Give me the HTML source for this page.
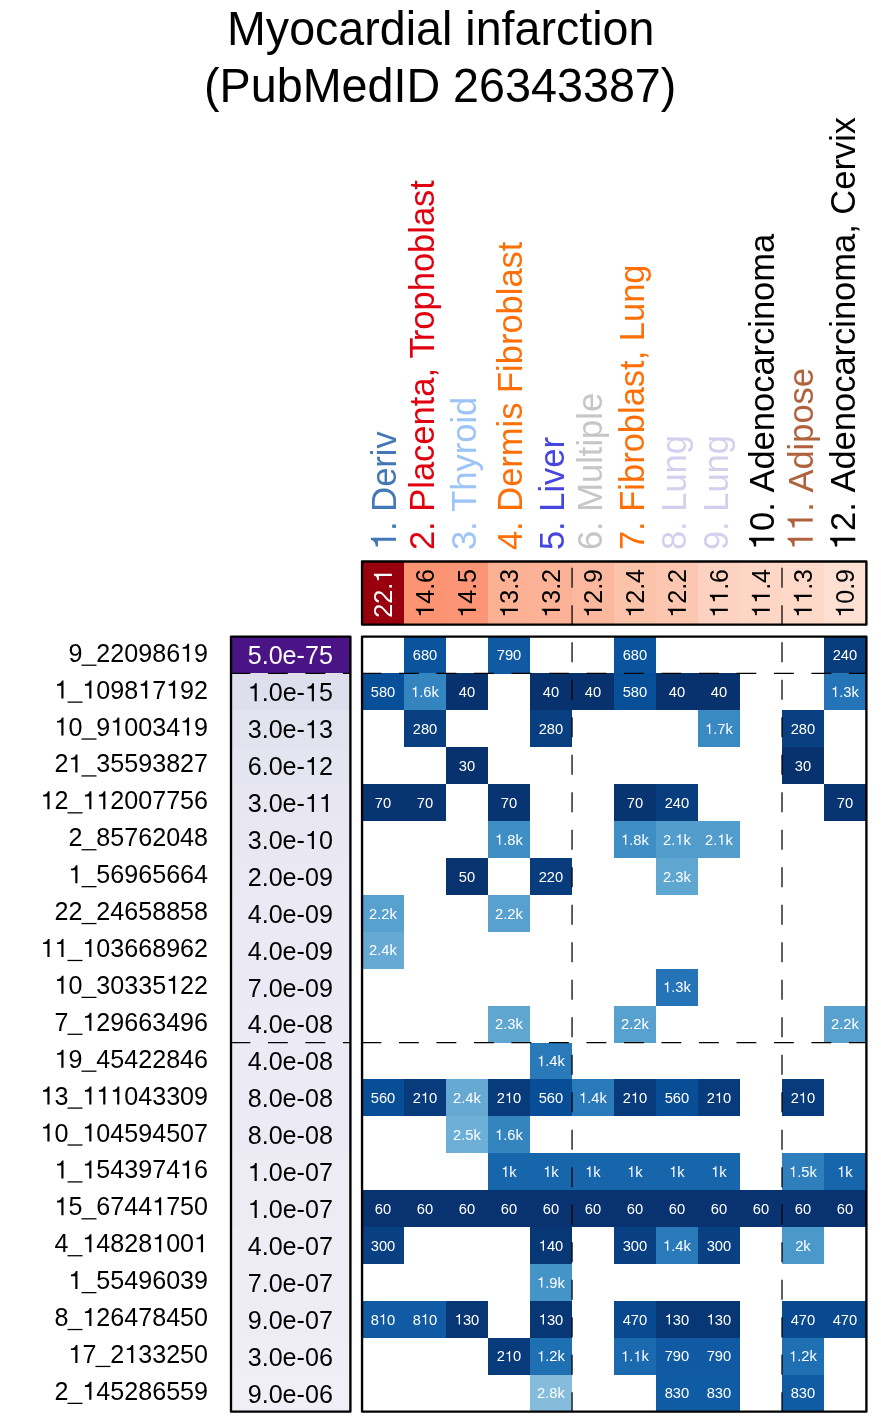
<!DOCTYPE html>
<html><head><meta charset="utf-8"><title>Myocardial infarction</title>
<style>
html,body{margin:0;padding:0;background:#fff;}
svg{display:block;will-change:transform;}
text{font-kerning:none;font-family:"Liberation Sans",sans-serif;}
</style></head><body>
<svg width="881" height="1418" viewBox="0 0 881 1418">
<rect x="0" y="0" width="881" height="1418" fill="#ffffff"/>
<g font-size="46.7" text-anchor="middle" fill="#000">
<text font-size="46.6" transform="translate(440.70 45.20) scale(1 1.045)">Myocardial infarction</text>
<text transform="translate(440.20 101.60) scale(1 1.045)">(PubMedID 26343387)</text>
</g>
<g font-size="34.5">
<g transform="translate(396.00 550.10) rotate(-90) scale(1 1.035)" fill="#4178b5"><path transform="translate(0.00 0) scale(0.03450 -0.03450)" d="M359 0H272V505H101V568C216 573 270 610 295 703H359Z"/><text x="19.18">. Deriv</text></g>
<text transform="translate(434.19 550.10) rotate(-90) scale(1 1.035)" fill="#e0000f">2. Placenta, T<tspan dx="-3.8">rophoblast</tspan></text>
<text transform="translate(475.98 550.10) rotate(-90) scale(1 1.035)" fill="#9dc4f6">3. Thyroid</text>
<text transform="translate(521.57 550.10) rotate(-90) scale(1 1.035)" fill="#ff6f08">4. Dermis Fibroblast</text>
<text transform="translate(563.75 550.10) rotate(-90) scale(1 1.035)" fill="#4545e0">5. Liver</text>
<text transform="translate(602.15 550.10) rotate(-90) scale(1 1.035)" fill="#c6c6c6">6. Multiple</text>
<text transform="translate(644.03 550.10) rotate(-90) scale(1 1.035)" fill="#ff6f08">7. Fibroblast, Lung</text>
<text transform="translate(686.02 550.10) rotate(-90) scale(1 1.035)" fill="#d3cfee">8. Lung</text>
<text transform="translate(728.01 550.10) rotate(-90) scale(1 1.035)" fill="#d3cfee">9. Lung</text>
<g transform="translate(774.20 550.10) rotate(-90) scale(1 1.035)" fill="#000000"><path transform="translate(0.00 0) scale(0.03450 -0.03450)" d="M359 0H272V505H101V568C216 573 270 610 295 703H359Z"/><text x="19.18">0. Adenocarcinoma</text></g>
<g transform="translate(812.69 550.10) rotate(-90) scale(1 1.035)" fill="#b0623c"><path transform="translate(0.00 0) scale(0.03450 -0.03450)" d="M359 0H272V505H101V568C216 573 270 610 295 703H359Z"/><path transform="translate(19.18 0) scale(0.03450 -0.03450)" d="M359 0H272V505H101V568C216 573 270 610 295 703H359Z"/><text x="38.36">. Adipose</text></g>
<g transform="translate(855.28 550.10) rotate(-90) scale(1 1.035)" fill="#000000"><path transform="translate(0.00 0) scale(0.03450 -0.03450)" d="M359 0H272V505H101V568C216 573 270 610 295 703H359Z"/><text x="19.18">2. Adenocarcinoma, Cervix</text></g>
</g>
<g shape-rendering="crispEdges">
<rect x="362.00" y="561.5" width="42.04" height="63.10" fill="#99000d"/>
<rect x="403.99" y="561.5" width="42.04" height="63.10" fill="#fc9373"/>
<rect x="445.98" y="561.5" width="42.04" height="63.10" fill="#fc9576"/>
<rect x="487.97" y="561.5" width="42.04" height="63.10" fill="#fcb094"/>
<rect x="529.96" y="561.5" width="42.04" height="63.10" fill="#fcb296"/>
<rect x="571.95" y="561.5" width="42.04" height="63.10" fill="#fcb89e"/>
<rect x="613.94" y="561.5" width="42.04" height="63.10" fill="#fcc3ab"/>
<rect x="655.93" y="561.5" width="42.04" height="63.10" fill="#fdc6b0"/>
<rect x="697.92" y="561.5" width="42.04" height="63.10" fill="#fdd2c0"/>
<rect x="739.91" y="561.5" width="42.04" height="63.10" fill="#fdd6c5"/>
<rect x="781.90" y="561.5" width="42.04" height="63.10" fill="#fed8c8"/>
<rect x="823.89" y="561.5" width="42.04" height="63.10" fill="#fee0d2"/>
</g>
<g font-size="25.1">
<g transform="translate(391.89 593.35) rotate(-90) scale(1 1.02)" fill="#fff"><text x="-24.42">22.</text><path transform="translate(10.47 0) scale(0.02510 -0.02510)" d="M359 0H272V505H101V568C216 573 270 610 295 703H359Z"/></g>
<g transform="translate(433.88 593.35) rotate(-90) scale(1 1.02)" fill="#000"><path transform="translate(-24.42 0) scale(0.02510 -0.02510)" d="M359 0H272V505H101V568C216 573 270 610 295 703H359Z"/><text x="-10.47">4.6</text></g>
<g transform="translate(475.88 593.35) rotate(-90) scale(1 1.02)" fill="#000"><path transform="translate(-24.42 0) scale(0.02510 -0.02510)" d="M359 0H272V505H101V568C216 573 270 610 295 703H359Z"/><text x="-10.47">4.5</text></g>
<g transform="translate(517.87 593.35) rotate(-90) scale(1 1.02)" fill="#000"><path transform="translate(-24.42 0) scale(0.02510 -0.02510)" d="M359 0H272V505H101V568C216 573 270 610 295 703H359Z"/><text x="-10.47">3.3</text></g>
<g transform="translate(559.86 593.35) rotate(-90) scale(1 1.02)" fill="#000"><path transform="translate(-24.42 0) scale(0.02510 -0.02510)" d="M359 0H272V505H101V568C216 573 270 610 295 703H359Z"/><text x="-10.47">3.2</text></g>
<g transform="translate(601.85 593.35) rotate(-90) scale(1 1.02)" fill="#000"><path transform="translate(-24.42 0) scale(0.02510 -0.02510)" d="M359 0H272V505H101V568C216 573 270 610 295 703H359Z"/><text x="-10.47">2.9</text></g>
<g transform="translate(643.83 593.35) rotate(-90) scale(1 1.02)" fill="#000"><path transform="translate(-24.42 0) scale(0.02510 -0.02510)" d="M359 0H272V505H101V568C216 573 270 610 295 703H359Z"/><text x="-10.47">2.4</text></g>
<g transform="translate(685.82 593.35) rotate(-90) scale(1 1.02)" fill="#000"><path transform="translate(-24.42 0) scale(0.02510 -0.02510)" d="M359 0H272V505H101V568C216 573 270 610 295 703H359Z"/><text x="-10.47">2.2</text></g>
<g transform="translate(727.81 593.35) rotate(-90) scale(1 1.02)" fill="#000"><path transform="translate(-24.42 0) scale(0.02510 -0.02510)" d="M359 0H272V505H101V568C216 573 270 610 295 703H359Z"/><path transform="translate(-10.47 0) scale(0.02510 -0.02510)" d="M359 0H272V505H101V568C216 573 270 610 295 703H359Z"/><text x="3.49">.6</text></g>
<g transform="translate(769.80 593.35) rotate(-90) scale(1 1.02)" fill="#000"><path transform="translate(-24.42 0) scale(0.02510 -0.02510)" d="M359 0H272V505H101V568C216 573 270 610 295 703H359Z"/><path transform="translate(-10.47 0) scale(0.02510 -0.02510)" d="M359 0H272V505H101V568C216 573 270 610 295 703H359Z"/><text x="3.49">.4</text></g>
<g transform="translate(811.79 593.35) rotate(-90) scale(1 1.02)" fill="#000"><path transform="translate(-24.42 0) scale(0.02510 -0.02510)" d="M359 0H272V505H101V568C216 573 270 610 295 703H359Z"/><path transform="translate(-10.47 0) scale(0.02510 -0.02510)" d="M359 0H272V505H101V568C216 573 270 610 295 703H359Z"/><text x="3.49">.3</text></g>
<g transform="translate(853.78 593.35) rotate(-90) scale(1 1.02)" fill="#000"><path transform="translate(-24.42 0) scale(0.02510 -0.02510)" d="M359 0H272V505H101V568C216 573 270 610 295 703H359Z"/><text x="-10.47">0.9</text></g>
</g>
<g shape-rendering="crispEdges">
<rect x="231.0" y="636.55" width="119.40" height="36.96" fill="#4a1486"/>
<rect x="231.0" y="673.46" width="119.40" height="36.96" fill="#dfdeed"/>
<rect x="231.0" y="710.36" width="119.40" height="36.96" fill="#e3e2ef"/>
<rect x="231.0" y="747.27" width="119.40" height="36.96" fill="#e5e4f1"/>
<rect x="231.0" y="784.18" width="119.40" height="36.96" fill="#e7e6f1"/>
<rect x="231.0" y="821.09" width="119.40" height="36.96" fill="#e8e7f2"/>
<rect x="231.0" y="857.99" width="119.40" height="36.96" fill="#eae9f3"/>
<rect x="231.0" y="894.90" width="119.40" height="36.96" fill="#eae9f4"/>
<rect x="231.0" y="931.81" width="119.40" height="36.96" fill="#eae9f4"/>
<rect x="231.0" y="968.71" width="119.40" height="36.96" fill="#ebeaf4"/>
<rect x="231.0" y="1005.62" width="119.40" height="36.96" fill="#ecebf5"/>
<rect x="231.0" y="1042.53" width="119.40" height="36.96" fill="#ecebf5"/>
<rect x="231.0" y="1079.44" width="119.40" height="36.96" fill="#ecebf5"/>
<rect x="231.0" y="1116.34" width="119.40" height="36.96" fill="#ecebf5"/>
<rect x="231.0" y="1153.25" width="119.40" height="36.96" fill="#edecf5"/>
<rect x="231.0" y="1190.16" width="119.40" height="36.96" fill="#edecf5"/>
<rect x="231.0" y="1227.06" width="119.40" height="36.96" fill="#eeedf6"/>
<rect x="231.0" y="1263.97" width="119.40" height="36.96" fill="#eeedf6"/>
<rect x="231.0" y="1300.88" width="119.40" height="36.96" fill="#eeedf6"/>
<rect x="231.0" y="1337.79" width="119.40" height="36.96" fill="#efeef6"/>
<rect x="231.0" y="1374.69" width="119.40" height="36.96" fill="#f0eff7"/>
</g>
<g shape-rendering="crispEdges">
<rect x="403.99" y="636.55" width="42.04" height="36.96" fill="#0a549e"/>
<rect x="487.97" y="636.55" width="42.04" height="36.96" fill="#0f5aa3"/>
<rect x="613.94" y="636.55" width="42.04" height="36.96" fill="#0a549e"/>
<rect x="823.89" y="636.55" width="42.04" height="36.96" fill="#083d7e"/>
<rect x="362.00" y="673.46" width="42.04" height="36.96" fill="#084f99"/>
<rect x="403.99" y="673.46" width="42.04" height="36.96" fill="#3484bf"/>
<rect x="445.98" y="673.46" width="42.04" height="36.96" fill="#08326e"/>
<rect x="529.96" y="673.46" width="42.04" height="36.96" fill="#08326e"/>
<rect x="571.95" y="673.46" width="42.04" height="36.96" fill="#08326e"/>
<rect x="613.94" y="673.46" width="42.04" height="36.96" fill="#084f99"/>
<rect x="655.93" y="673.46" width="42.04" height="36.96" fill="#08326e"/>
<rect x="697.92" y="673.46" width="42.04" height="36.96" fill="#08326e"/>
<rect x="823.89" y="673.46" width="42.04" height="36.96" fill="#2474b7"/>
<rect x="403.99" y="710.36" width="42.04" height="36.96" fill="#083f81"/>
<rect x="529.96" y="710.36" width="42.04" height="36.96" fill="#083f81"/>
<rect x="697.92" y="710.36" width="42.04" height="36.96" fill="#3989c2"/>
<rect x="781.90" y="710.36" width="42.04" height="36.96" fill="#083f81"/>
<rect x="445.98" y="747.27" width="42.04" height="36.96" fill="#08326d"/>
<rect x="781.90" y="747.27" width="42.04" height="36.96" fill="#08326d"/>
<rect x="362.00" y="784.18" width="42.04" height="36.96" fill="#083471"/>
<rect x="403.99" y="784.18" width="42.04" height="36.96" fill="#083471"/>
<rect x="487.97" y="784.18" width="42.04" height="36.96" fill="#083471"/>
<rect x="613.94" y="784.18" width="42.04" height="36.96" fill="#083471"/>
<rect x="655.93" y="784.18" width="42.04" height="36.96" fill="#083d7e"/>
<rect x="823.89" y="784.18" width="42.04" height="36.96" fill="#083471"/>
<rect x="487.97" y="821.09" width="42.04" height="36.96" fill="#3f8fc4"/>
<rect x="613.94" y="821.09" width="42.04" height="36.96" fill="#3f8fc4"/>
<rect x="655.93" y="821.09" width="42.04" height="36.96" fill="#529dcc"/>
<rect x="697.92" y="821.09" width="42.04" height="36.96" fill="#529dcc"/>
<rect x="445.98" y="857.99" width="42.04" height="36.96" fill="#08336f"/>
<rect x="529.96" y="857.99" width="42.04" height="36.96" fill="#083c7c"/>
<rect x="655.93" y="857.99" width="42.04" height="36.96" fill="#5fa6d1"/>
<rect x="362.00" y="894.90" width="42.04" height="36.96" fill="#58a1cf"/>
<rect x="487.97" y="894.90" width="42.04" height="36.96" fill="#58a1cf"/>
<rect x="362.00" y="931.81" width="42.04" height="36.96" fill="#66aad4"/>
<rect x="655.93" y="968.71" width="42.04" height="36.96" fill="#2474b7"/>
<rect x="487.97" y="1005.62" width="42.04" height="36.96" fill="#5fa6d1"/>
<rect x="613.94" y="1005.62" width="42.04" height="36.96" fill="#58a1cf"/>
<rect x="823.89" y="1005.62" width="42.04" height="36.96" fill="#58a1cf"/>
<rect x="529.96" y="1042.53" width="42.04" height="36.96" fill="#2a7ab9"/>
<rect x="362.00" y="1079.44" width="42.04" height="36.96" fill="#084e97"/>
<rect x="403.99" y="1079.44" width="42.04" height="36.96" fill="#083b7c"/>
<rect x="445.98" y="1079.44" width="42.04" height="36.96" fill="#66aad4"/>
<rect x="487.97" y="1079.44" width="42.04" height="36.96" fill="#083b7c"/>
<rect x="529.96" y="1079.44" width="42.04" height="36.96" fill="#084e97"/>
<rect x="571.95" y="1079.44" width="42.04" height="36.96" fill="#2a7ab9"/>
<rect x="613.94" y="1079.44" width="42.04" height="36.96" fill="#083b7c"/>
<rect x="655.93" y="1079.44" width="42.04" height="36.96" fill="#084e97"/>
<rect x="697.92" y="1079.44" width="42.04" height="36.96" fill="#083b7c"/>
<rect x="781.90" y="1079.44" width="42.04" height="36.96" fill="#083b7c"/>
<rect x="445.98" y="1116.34" width="42.04" height="36.96" fill="#6dafd6"/>
<rect x="487.97" y="1116.34" width="42.04" height="36.96" fill="#3484bf"/>
<rect x="487.97" y="1153.25" width="42.04" height="36.96" fill="#1765ab"/>
<rect x="529.96" y="1153.25" width="42.04" height="36.96" fill="#1765ab"/>
<rect x="571.95" y="1153.25" width="42.04" height="36.96" fill="#1765ab"/>
<rect x="613.94" y="1153.25" width="42.04" height="36.96" fill="#1765ab"/>
<rect x="655.93" y="1153.25" width="42.04" height="36.96" fill="#1765ab"/>
<rect x="697.92" y="1153.25" width="42.04" height="36.96" fill="#1765ab"/>
<rect x="781.90" y="1153.25" width="42.04" height="36.96" fill="#2f7fbc"/>
<rect x="823.89" y="1153.25" width="42.04" height="36.96" fill="#1765ab"/>
<rect x="362.00" y="1190.16" width="42.04" height="36.96" fill="#083370"/>
<rect x="403.99" y="1190.16" width="42.04" height="36.96" fill="#083370"/>
<rect x="445.98" y="1190.16" width="42.04" height="36.96" fill="#083370"/>
<rect x="487.97" y="1190.16" width="42.04" height="36.96" fill="#083370"/>
<rect x="529.96" y="1190.16" width="42.04" height="36.96" fill="#083370"/>
<rect x="571.95" y="1190.16" width="42.04" height="36.96" fill="#083370"/>
<rect x="613.94" y="1190.16" width="42.04" height="36.96" fill="#083370"/>
<rect x="655.93" y="1190.16" width="42.04" height="36.96" fill="#083370"/>
<rect x="697.92" y="1190.16" width="42.04" height="36.96" fill="#083370"/>
<rect x="739.91" y="1190.16" width="42.04" height="36.96" fill="#083370"/>
<rect x="781.90" y="1190.16" width="42.04" height="36.96" fill="#083370"/>
<rect x="823.89" y="1190.16" width="42.04" height="36.96" fill="#083370"/>
<rect x="362.00" y="1227.06" width="42.04" height="36.96" fill="#084083"/>
<rect x="529.96" y="1227.06" width="42.04" height="36.96" fill="#083776"/>
<rect x="613.94" y="1227.06" width="42.04" height="36.96" fill="#084083"/>
<rect x="655.93" y="1227.06" width="42.04" height="36.96" fill="#2a7ab9"/>
<rect x="697.92" y="1227.06" width="42.04" height="36.96" fill="#084083"/>
<rect x="781.90" y="1227.06" width="42.04" height="36.96" fill="#4b98ca"/>
<rect x="529.96" y="1263.97" width="42.04" height="36.96" fill="#4594c7"/>
<rect x="362.00" y="1300.88" width="42.04" height="36.96" fill="#105ba4"/>
<rect x="403.99" y="1300.88" width="42.04" height="36.96" fill="#105ba4"/>
<rect x="445.98" y="1300.88" width="42.04" height="36.96" fill="#083775"/>
<rect x="529.96" y="1300.88" width="42.04" height="36.96" fill="#083775"/>
<rect x="613.94" y="1300.88" width="42.04" height="36.96" fill="#084990"/>
<rect x="655.93" y="1300.88" width="42.04" height="36.96" fill="#083775"/>
<rect x="697.92" y="1300.88" width="42.04" height="36.96" fill="#083775"/>
<rect x="781.90" y="1300.88" width="42.04" height="36.96" fill="#084990"/>
<rect x="823.89" y="1300.88" width="42.04" height="36.96" fill="#084990"/>
<rect x="487.97" y="1337.79" width="42.04" height="36.96" fill="#083b7c"/>
<rect x="529.96" y="1337.79" width="42.04" height="36.96" fill="#1f6fb3"/>
<rect x="613.94" y="1337.79" width="42.04" height="36.96" fill="#1b6aaf"/>
<rect x="655.93" y="1337.79" width="42.04" height="36.96" fill="#0f5aa3"/>
<rect x="697.92" y="1337.79" width="42.04" height="36.96" fill="#0f5aa3"/>
<rect x="781.90" y="1337.79" width="42.04" height="36.96" fill="#1f6fb3"/>
<rect x="529.96" y="1374.69" width="42.04" height="36.96" fill="#85bcdc"/>
<rect x="655.93" y="1374.69" width="42.04" height="36.96" fill="#105ca4"/>
<rect x="697.92" y="1374.69" width="42.04" height="36.96" fill="#105ca4"/>
<rect x="781.90" y="1374.69" width="42.04" height="36.96" fill="#105ca4"/>
</g>
<g font-size="14.7" fill="#fff">
<text transform="translate(424.99 660.20) scale(1 1.02)" text-anchor="middle">680</text>
<text transform="translate(508.97 660.20) scale(1 1.02)" text-anchor="middle">790</text>
<text transform="translate(634.93 660.20) scale(1 1.02)" text-anchor="middle">680</text>
<text transform="translate(844.88 660.20) scale(1 1.02)" text-anchor="middle">240</text>
<text transform="translate(383.00 697.11) scale(1 1.02)" text-anchor="middle">580</text>
<g transform="translate(424.99 697.11) scale(1 1.02)"><path transform="translate(-13.89 0) scale(0.01470 -0.01470)" d="M359 0H272V505H101V568C216 573 270 610 295 703H359Z"/><text x="-5.72">.6k</text></g>
<text transform="translate(466.98 697.11) scale(1 1.02)" text-anchor="middle">40</text>
<text transform="translate(550.96 697.11) scale(1 1.02)" text-anchor="middle">40</text>
<text transform="translate(592.95 697.11) scale(1 1.02)" text-anchor="middle">40</text>
<text transform="translate(634.93 697.11) scale(1 1.02)" text-anchor="middle">580</text>
<text transform="translate(676.92 697.11) scale(1 1.02)" text-anchor="middle">40</text>
<text transform="translate(718.91 697.11) scale(1 1.02)" text-anchor="middle">40</text>
<g transform="translate(844.88 697.11) scale(1 1.02)"><path transform="translate(-13.89 0) scale(0.01470 -0.01470)" d="M359 0H272V505H101V568C216 573 270 610 295 703H359Z"/><text x="-5.72">.3k</text></g>
<text transform="translate(424.99 734.02) scale(1 1.02)" text-anchor="middle">280</text>
<text transform="translate(550.96 734.02) scale(1 1.02)" text-anchor="middle">280</text>
<g transform="translate(718.91 734.02) scale(1 1.02)"><path transform="translate(-13.89 0) scale(0.01470 -0.01470)" d="M359 0H272V505H101V568C216 573 270 610 295 703H359Z"/><text x="-5.72">.7k</text></g>
<text transform="translate(802.89 734.02) scale(1 1.02)" text-anchor="middle">280</text>
<text transform="translate(466.98 770.92) scale(1 1.02)" text-anchor="middle">30</text>
<text transform="translate(802.89 770.92) scale(1 1.02)" text-anchor="middle">30</text>
<text transform="translate(383.00 807.83) scale(1 1.02)" text-anchor="middle">70</text>
<text transform="translate(424.99 807.83) scale(1 1.02)" text-anchor="middle">70</text>
<text transform="translate(508.97 807.83) scale(1 1.02)" text-anchor="middle">70</text>
<text transform="translate(634.93 807.83) scale(1 1.02)" text-anchor="middle">70</text>
<text transform="translate(676.92 807.83) scale(1 1.02)" text-anchor="middle">240</text>
<text transform="translate(844.88 807.83) scale(1 1.02)" text-anchor="middle">70</text>
<g transform="translate(508.97 844.74) scale(1 1.02)"><path transform="translate(-13.89 0) scale(0.01470 -0.01470)" d="M359 0H272V505H101V568C216 573 270 610 295 703H359Z"/><text x="-5.72">.8k</text></g>
<g transform="translate(634.93 844.74) scale(1 1.02)"><path transform="translate(-13.89 0) scale(0.01470 -0.01470)" d="M359 0H272V505H101V568C216 573 270 610 295 703H359Z"/><text x="-5.72">.8k</text></g>
<g transform="translate(676.92 844.74) scale(1 1.02)"><text x="-13.89">2.</text><path transform="translate(-1.63 0) scale(0.01470 -0.01470)" d="M359 0H272V505H101V568C216 573 270 610 295 703H359Z"/><text x="6.54">k</text></g>
<g transform="translate(718.91 844.74) scale(1 1.02)"><text x="-13.89">2.</text><path transform="translate(-1.63 0) scale(0.01470 -0.01470)" d="M359 0H272V505H101V568C216 573 270 610 295 703H359Z"/><text x="6.54">k</text></g>
<text transform="translate(466.98 881.65) scale(1 1.02)" text-anchor="middle">50</text>
<text transform="translate(550.96 881.65) scale(1 1.02)" text-anchor="middle">220</text>
<text transform="translate(676.92 881.65) scale(1 1.02)" text-anchor="middle">2.3k</text>
<text transform="translate(383.00 918.55) scale(1 1.02)" text-anchor="middle">2.2k</text>
<text transform="translate(508.97 918.55) scale(1 1.02)" text-anchor="middle">2.2k</text>
<text transform="translate(383.00 955.46) scale(1 1.02)" text-anchor="middle">2.4k</text>
<g transform="translate(676.92 992.37) scale(1 1.02)"><path transform="translate(-13.89 0) scale(0.01470 -0.01470)" d="M359 0H272V505H101V568C216 573 270 610 295 703H359Z"/><text x="-5.72">.3k</text></g>
<text transform="translate(508.97 1029.28) scale(1 1.02)" text-anchor="middle">2.3k</text>
<text transform="translate(634.93 1029.28) scale(1 1.02)" text-anchor="middle">2.2k</text>
<text transform="translate(844.88 1029.28) scale(1 1.02)" text-anchor="middle">2.2k</text>
<g transform="translate(550.96 1066.18) scale(1 1.02)"><path transform="translate(-13.89 0) scale(0.01470 -0.01470)" d="M359 0H272V505H101V568C216 573 270 610 295 703H359Z"/><text x="-5.72">.4k</text></g>
<text transform="translate(383.00 1103.09) scale(1 1.02)" text-anchor="middle">560</text>
<g transform="translate(424.99 1103.09) scale(1 1.02)"><text x="-12.26">2</text><path transform="translate(-4.09 0) scale(0.01470 -0.01470)" d="M359 0H272V505H101V568C216 573 270 610 295 703H359Z"/><text x="4.09">0</text></g>
<text transform="translate(466.98 1103.09) scale(1 1.02)" text-anchor="middle">2.4k</text>
<g transform="translate(508.97 1103.09) scale(1 1.02)"><text x="-12.26">2</text><path transform="translate(-4.09 0) scale(0.01470 -0.01470)" d="M359 0H272V505H101V568C216 573 270 610 295 703H359Z"/><text x="4.09">0</text></g>
<text transform="translate(550.96 1103.09) scale(1 1.02)" text-anchor="middle">560</text>
<g transform="translate(592.95 1103.09) scale(1 1.02)"><path transform="translate(-13.89 0) scale(0.01470 -0.01470)" d="M359 0H272V505H101V568C216 573 270 610 295 703H359Z"/><text x="-5.72">.4k</text></g>
<g transform="translate(634.93 1103.09) scale(1 1.02)"><text x="-12.26">2</text><path transform="translate(-4.09 0) scale(0.01470 -0.01470)" d="M359 0H272V505H101V568C216 573 270 610 295 703H359Z"/><text x="4.09">0</text></g>
<text transform="translate(676.92 1103.09) scale(1 1.02)" text-anchor="middle">560</text>
<g transform="translate(718.91 1103.09) scale(1 1.02)"><text x="-12.26">2</text><path transform="translate(-4.09 0) scale(0.01470 -0.01470)" d="M359 0H272V505H101V568C216 573 270 610 295 703H359Z"/><text x="4.09">0</text></g>
<g transform="translate(802.89 1103.09) scale(1 1.02)"><text x="-12.26">2</text><path transform="translate(-4.09 0) scale(0.01470 -0.01470)" d="M359 0H272V505H101V568C216 573 270 610 295 703H359Z"/><text x="4.09">0</text></g>
<text transform="translate(466.98 1140.00) scale(1 1.02)" text-anchor="middle">2.5k</text>
<g transform="translate(508.97 1140.00) scale(1 1.02)"><path transform="translate(-13.89 0) scale(0.01470 -0.01470)" d="M359 0H272V505H101V568C216 573 270 610 295 703H359Z"/><text x="-5.72">.6k</text></g>
<g transform="translate(508.97 1176.90) scale(1 1.02)"><path transform="translate(-7.76 0) scale(0.01470 -0.01470)" d="M359 0H272V505H101V568C216 573 270 610 295 703H359Z"/><text x="0.41">k</text></g>
<g transform="translate(550.96 1176.90) scale(1 1.02)"><path transform="translate(-7.76 0) scale(0.01470 -0.01470)" d="M359 0H272V505H101V568C216 573 270 610 295 703H359Z"/><text x="0.41">k</text></g>
<g transform="translate(592.95 1176.90) scale(1 1.02)"><path transform="translate(-7.76 0) scale(0.01470 -0.01470)" d="M359 0H272V505H101V568C216 573 270 610 295 703H359Z"/><text x="0.41">k</text></g>
<g transform="translate(634.93 1176.90) scale(1 1.02)"><path transform="translate(-7.76 0) scale(0.01470 -0.01470)" d="M359 0H272V505H101V568C216 573 270 610 295 703H359Z"/><text x="0.41">k</text></g>
<g transform="translate(676.92 1176.90) scale(1 1.02)"><path transform="translate(-7.76 0) scale(0.01470 -0.01470)" d="M359 0H272V505H101V568C216 573 270 610 295 703H359Z"/><text x="0.41">k</text></g>
<g transform="translate(718.91 1176.90) scale(1 1.02)"><path transform="translate(-7.76 0) scale(0.01470 -0.01470)" d="M359 0H272V505H101V568C216 573 270 610 295 703H359Z"/><text x="0.41">k</text></g>
<g transform="translate(802.89 1176.90) scale(1 1.02)"><path transform="translate(-13.89 0) scale(0.01470 -0.01470)" d="M359 0H272V505H101V568C216 573 270 610 295 703H359Z"/><text x="-5.72">.5k</text></g>
<g transform="translate(844.88 1176.90) scale(1 1.02)"><path transform="translate(-7.76 0) scale(0.01470 -0.01470)" d="M359 0H272V505H101V568C216 573 270 610 295 703H359Z"/><text x="0.41">k</text></g>
<text transform="translate(383.00 1213.81) scale(1 1.02)" text-anchor="middle">60</text>
<text transform="translate(424.99 1213.81) scale(1 1.02)" text-anchor="middle">60</text>
<text transform="translate(466.98 1213.81) scale(1 1.02)" text-anchor="middle">60</text>
<text transform="translate(508.97 1213.81) scale(1 1.02)" text-anchor="middle">60</text>
<text transform="translate(550.96 1213.81) scale(1 1.02)" text-anchor="middle">60</text>
<text transform="translate(592.95 1213.81) scale(1 1.02)" text-anchor="middle">60</text>
<text transform="translate(634.93 1213.81) scale(1 1.02)" text-anchor="middle">60</text>
<text transform="translate(676.92 1213.81) scale(1 1.02)" text-anchor="middle">60</text>
<text transform="translate(718.91 1213.81) scale(1 1.02)" text-anchor="middle">60</text>
<text transform="translate(760.90 1213.81) scale(1 1.02)" text-anchor="middle">60</text>
<text transform="translate(802.89 1213.81) scale(1 1.02)" text-anchor="middle">60</text>
<text transform="translate(844.88 1213.81) scale(1 1.02)" text-anchor="middle">60</text>
<text transform="translate(383.00 1250.72) scale(1 1.02)" text-anchor="middle">300</text>
<g transform="translate(550.96 1250.72) scale(1 1.02)"><path transform="translate(-12.26 0) scale(0.01470 -0.01470)" d="M359 0H272V505H101V568C216 573 270 610 295 703H359Z"/><text x="-4.09">40</text></g>
<text transform="translate(634.93 1250.72) scale(1 1.02)" text-anchor="middle">300</text>
<g transform="translate(676.92 1250.72) scale(1 1.02)"><path transform="translate(-13.89 0) scale(0.01470 -0.01470)" d="M359 0H272V505H101V568C216 573 270 610 295 703H359Z"/><text x="-5.72">.4k</text></g>
<text transform="translate(718.91 1250.72) scale(1 1.02)" text-anchor="middle">300</text>
<text transform="translate(802.89 1250.72) scale(1 1.02)" text-anchor="middle">2k</text>
<g transform="translate(550.96 1287.62) scale(1 1.02)"><path transform="translate(-13.89 0) scale(0.01470 -0.01470)" d="M359 0H272V505H101V568C216 573 270 610 295 703H359Z"/><text x="-5.72">.9k</text></g>
<g transform="translate(383.00 1324.53) scale(1 1.02)"><text x="-12.26">8</text><path transform="translate(-4.09 0) scale(0.01470 -0.01470)" d="M359 0H272V505H101V568C216 573 270 610 295 703H359Z"/><text x="4.09">0</text></g>
<g transform="translate(424.99 1324.53) scale(1 1.02)"><text x="-12.26">8</text><path transform="translate(-4.09 0) scale(0.01470 -0.01470)" d="M359 0H272V505H101V568C216 573 270 610 295 703H359Z"/><text x="4.09">0</text></g>
<g transform="translate(466.98 1324.53) scale(1 1.02)"><path transform="translate(-12.26 0) scale(0.01470 -0.01470)" d="M359 0H272V505H101V568C216 573 270 610 295 703H359Z"/><text x="-4.09">30</text></g>
<g transform="translate(550.96 1324.53) scale(1 1.02)"><path transform="translate(-12.26 0) scale(0.01470 -0.01470)" d="M359 0H272V505H101V568C216 573 270 610 295 703H359Z"/><text x="-4.09">30</text></g>
<text transform="translate(634.93 1324.53) scale(1 1.02)" text-anchor="middle">470</text>
<g transform="translate(676.92 1324.53) scale(1 1.02)"><path transform="translate(-12.26 0) scale(0.01470 -0.01470)" d="M359 0H272V505H101V568C216 573 270 610 295 703H359Z"/><text x="-4.09">30</text></g>
<g transform="translate(718.91 1324.53) scale(1 1.02)"><path transform="translate(-12.26 0) scale(0.01470 -0.01470)" d="M359 0H272V505H101V568C216 573 270 610 295 703H359Z"/><text x="-4.09">30</text></g>
<text transform="translate(802.89 1324.53) scale(1 1.02)" text-anchor="middle">470</text>
<text transform="translate(844.88 1324.53) scale(1 1.02)" text-anchor="middle">470</text>
<g transform="translate(508.97 1361.44) scale(1 1.02)"><text x="-12.26">2</text><path transform="translate(-4.09 0) scale(0.01470 -0.01470)" d="M359 0H272V505H101V568C216 573 270 610 295 703H359Z"/><text x="4.09">0</text></g>
<g transform="translate(550.96 1361.44) scale(1 1.02)"><path transform="translate(-13.89 0) scale(0.01470 -0.01470)" d="M359 0H272V505H101V568C216 573 270 610 295 703H359Z"/><text x="-5.72">.2k</text></g>
<g transform="translate(634.93 1361.44) scale(1 1.02)"><path transform="translate(-13.89 0) scale(0.01470 -0.01470)" d="M359 0H272V505H101V568C216 573 270 610 295 703H359Z"/><text x="-5.72">.</text><path transform="translate(-1.63 0) scale(0.01470 -0.01470)" d="M359 0H272V505H101V568C216 573 270 610 295 703H359Z"/><text x="6.54">k</text></g>
<text transform="translate(676.92 1361.44) scale(1 1.02)" text-anchor="middle">790</text>
<text transform="translate(718.91 1361.44) scale(1 1.02)" text-anchor="middle">790</text>
<g transform="translate(802.89 1361.44) scale(1 1.02)"><path transform="translate(-13.89 0) scale(0.01470 -0.01470)" d="M359 0H272V505H101V568C216 573 270 610 295 703H359Z"/><text x="-5.72">.2k</text></g>
<text transform="translate(550.96 1398.35) scale(1 1.02)" text-anchor="middle">2.8k</text>
<text transform="translate(676.92 1398.35) scale(1 1.02)" text-anchor="middle">830</text>
<text transform="translate(718.91 1398.35) scale(1 1.02)" text-anchor="middle">830</text>
<text transform="translate(802.89 1398.35) scale(1 1.02)" text-anchor="middle">830</text>
</g>
<g font-size="25.1" fill="#000">
<g transform="translate(208.00 661.70) scale(1 1.02)"><text x="-139.56">9</text><path transform="translate(-125.60 0) scale(0.02510 -0.02510)" d="M-37 -112H561V-162H-37Z"/><text x="-111.64">220986</text><path transform="translate(-27.91 0) scale(0.02510 -0.02510)" d="M359 0H272V505H101V568C216 573 270 610 295 703H359Z"/><text x="-13.96">9</text></g>
<text transform="translate(290.30 664.40) scale(1 1.02)" text-anchor="middle" fill="#fff">5.0e-75</text>
<g transform="translate(208.00 698.61) scale(1 1.02)"><path transform="translate(-153.51 0) scale(0.02510 -0.02510)" d="M359 0H272V505H101V568C216 573 270 610 295 703H359Z"/><path transform="translate(-139.56 0) scale(0.02510 -0.02510)" d="M-37 -112H561V-162H-37Z"/><path transform="translate(-125.60 0) scale(0.02510 -0.02510)" d="M359 0H272V505H101V568C216 573 270 610 295 703H359Z"/><text x="-111.64">098</text><path transform="translate(-69.78 0) scale(0.02510 -0.02510)" d="M359 0H272V505H101V568C216 573 270 610 295 703H359Z"/><text x="-55.82">7</text><path transform="translate(-41.87 0) scale(0.02510 -0.02510)" d="M359 0H272V505H101V568C216 573 270 610 295 703H359Z"/><text x="-27.91">92</text></g>
<g transform="translate(290.30 701.31) scale(1 1.02)"><path transform="translate(-42.56 0) scale(0.02510 -0.02510)" d="M359 0H272V505H101V568C216 573 270 610 295 703H359Z"/><text x="-28.60">.0e-</text><path transform="translate(14.65 0) scale(0.02510 -0.02510)" d="M359 0H272V505H101V568C216 573 270 610 295 703H359Z"/><text x="28.60">5</text></g>
<g transform="translate(208.00 735.52) scale(1 1.02)"><path transform="translate(-153.51 0) scale(0.02510 -0.02510)" d="M359 0H272V505H101V568C216 573 270 610 295 703H359Z"/><text x="-139.56">0</text><path transform="translate(-125.60 0) scale(0.02510 -0.02510)" d="M-37 -112H561V-162H-37Z"/><text x="-111.64">9</text><path transform="translate(-97.69 0) scale(0.02510 -0.02510)" d="M359 0H272V505H101V568C216 573 270 610 295 703H359Z"/><text x="-83.73">0034</text><path transform="translate(-27.91 0) scale(0.02510 -0.02510)" d="M359 0H272V505H101V568C216 573 270 610 295 703H359Z"/><text x="-13.96">9</text></g>
<g transform="translate(290.30 738.22) scale(1 1.02)"><text x="-42.56">3.0e-</text><path transform="translate(14.65 0) scale(0.02510 -0.02510)" d="M359 0H272V505H101V568C216 573 270 610 295 703H359Z"/><text x="28.60">3</text></g>
<g transform="translate(208.00 772.42) scale(1 1.02)"><text x="-153.51">2</text><path transform="translate(-139.56 0) scale(0.02510 -0.02510)" d="M359 0H272V505H101V568C216 573 270 610 295 703H359Z"/><path transform="translate(-125.60 0) scale(0.02510 -0.02510)" d="M-37 -112H561V-162H-37Z"/><text x="-111.64">35593827</text></g>
<g transform="translate(290.30 775.12) scale(1 1.02)"><text x="-42.56">6.0e-</text><path transform="translate(14.65 0) scale(0.02510 -0.02510)" d="M359 0H272V505H101V568C216 573 270 610 295 703H359Z"/><text x="28.60">2</text></g>
<g transform="translate(208.00 809.33) scale(1 1.02)"><path transform="translate(-167.47 0) scale(0.02510 -0.02510)" d="M359 0H272V505H101V568C216 573 270 610 295 703H359Z"/><text x="-153.51">2</text><path transform="translate(-139.56 0) scale(0.02510 -0.02510)" d="M-37 -112H561V-162H-37Z"/><path transform="translate(-125.60 0) scale(0.02510 -0.02510)" d="M359 0H272V505H101V568C216 573 270 610 295 703H359Z"/><path transform="translate(-111.64 0) scale(0.02510 -0.02510)" d="M359 0H272V505H101V568C216 573 270 610 295 703H359Z"/><text x="-97.69">2007756</text></g>
<g transform="translate(290.30 812.03) scale(1 1.02)"><text x="-42.56">3.0e-</text><path transform="translate(14.65 0) scale(0.02510 -0.02510)" d="M359 0H272V505H101V568C216 573 270 610 295 703H359Z"/><path transform="translate(28.60 0) scale(0.02510 -0.02510)" d="M359 0H272V505H101V568C216 573 270 610 295 703H359Z"/></g>
<g transform="translate(208.00 846.24) scale(1 1.02)"><text x="-139.56">2</text><path transform="translate(-125.60 0) scale(0.02510 -0.02510)" d="M-37 -112H561V-162H-37Z"/><text x="-111.64">85762048</text></g>
<g transform="translate(290.30 848.94) scale(1 1.02)"><text x="-42.56">3.0e-</text><path transform="translate(14.65 0) scale(0.02510 -0.02510)" d="M359 0H272V505H101V568C216 573 270 610 295 703H359Z"/><text x="28.60">0</text></g>
<g transform="translate(208.00 883.15) scale(1 1.02)"><path transform="translate(-139.56 0) scale(0.02510 -0.02510)" d="M359 0H272V505H101V568C216 573 270 610 295 703H359Z"/><path transform="translate(-125.60 0) scale(0.02510 -0.02510)" d="M-37 -112H561V-162H-37Z"/><text x="-111.64">56965664</text></g>
<text transform="translate(290.30 885.85) scale(1 1.02)" text-anchor="middle">2.0e-09</text>
<g transform="translate(208.00 920.05) scale(1 1.02)"><text x="-153.51">22</text><path transform="translate(-125.60 0) scale(0.02510 -0.02510)" d="M-37 -112H561V-162H-37Z"/><text x="-111.64">24658858</text></g>
<text transform="translate(290.30 922.75) scale(1 1.02)" text-anchor="middle">4.0e-09</text>
<g transform="translate(208.00 956.96) scale(1 1.02)"><path transform="translate(-167.47 0) scale(0.02510 -0.02510)" d="M359 0H272V505H101V568C216 573 270 610 295 703H359Z"/><path transform="translate(-153.51 0) scale(0.02510 -0.02510)" d="M359 0H272V505H101V568C216 573 270 610 295 703H359Z"/><path transform="translate(-139.56 0) scale(0.02510 -0.02510)" d="M-37 -112H561V-162H-37Z"/><path transform="translate(-125.60 0) scale(0.02510 -0.02510)" d="M359 0H272V505H101V568C216 573 270 610 295 703H359Z"/><text x="-111.64">03668962</text></g>
<text transform="translate(290.30 959.66) scale(1 1.02)" text-anchor="middle">4.0e-09</text>
<g transform="translate(208.00 993.87) scale(1 1.02)"><path transform="translate(-153.51 0) scale(0.02510 -0.02510)" d="M359 0H272V505H101V568C216 573 270 610 295 703H359Z"/><text x="-139.56">0</text><path transform="translate(-125.60 0) scale(0.02510 -0.02510)" d="M-37 -112H561V-162H-37Z"/><text x="-111.64">30335</text><path transform="translate(-41.87 0) scale(0.02510 -0.02510)" d="M359 0H272V505H101V568C216 573 270 610 295 703H359Z"/><text x="-27.91">22</text></g>
<text transform="translate(290.30 996.57) scale(1 1.02)" text-anchor="middle">7.0e-09</text>
<g transform="translate(208.00 1030.78) scale(1 1.02)"><text x="-153.51">7</text><path transform="translate(-139.56 0) scale(0.02510 -0.02510)" d="M-37 -112H561V-162H-37Z"/><path transform="translate(-125.60 0) scale(0.02510 -0.02510)" d="M359 0H272V505H101V568C216 573 270 610 295 703H359Z"/><text x="-111.64">29663496</text></g>
<text transform="translate(290.30 1033.48) scale(1 1.02)" text-anchor="middle">4.0e-08</text>
<g transform="translate(208.00 1067.68) scale(1 1.02)"><path transform="translate(-153.51 0) scale(0.02510 -0.02510)" d="M359 0H272V505H101V568C216 573 270 610 295 703H359Z"/><text x="-139.56">9</text><path transform="translate(-125.60 0) scale(0.02510 -0.02510)" d="M-37 -112H561V-162H-37Z"/><text x="-111.64">45422846</text></g>
<text transform="translate(290.30 1070.38) scale(1 1.02)" text-anchor="middle">4.0e-08</text>
<g transform="translate(208.00 1104.59) scale(1 1.02)"><path transform="translate(-167.47 0) scale(0.02510 -0.02510)" d="M359 0H272V505H101V568C216 573 270 610 295 703H359Z"/><text x="-153.51">3</text><path transform="translate(-139.56 0) scale(0.02510 -0.02510)" d="M-37 -112H561V-162H-37Z"/><path transform="translate(-125.60 0) scale(0.02510 -0.02510)" d="M359 0H272V505H101V568C216 573 270 610 295 703H359Z"/><path transform="translate(-111.64 0) scale(0.02510 -0.02510)" d="M359 0H272V505H101V568C216 573 270 610 295 703H359Z"/><path transform="translate(-97.69 0) scale(0.02510 -0.02510)" d="M359 0H272V505H101V568C216 573 270 610 295 703H359Z"/><text x="-83.73">043309</text></g>
<text transform="translate(290.30 1107.29) scale(1 1.02)" text-anchor="middle">8.0e-08</text>
<g transform="translate(208.00 1141.50) scale(1 1.02)"><path transform="translate(-167.47 0) scale(0.02510 -0.02510)" d="M359 0H272V505H101V568C216 573 270 610 295 703H359Z"/><text x="-153.51">0</text><path transform="translate(-139.56 0) scale(0.02510 -0.02510)" d="M-37 -112H561V-162H-37Z"/><path transform="translate(-125.60 0) scale(0.02510 -0.02510)" d="M359 0H272V505H101V568C216 573 270 610 295 703H359Z"/><text x="-111.64">04594507</text></g>
<text transform="translate(290.30 1144.20) scale(1 1.02)" text-anchor="middle">8.0e-08</text>
<g transform="translate(208.00 1178.40) scale(1 1.02)"><path transform="translate(-153.51 0) scale(0.02510 -0.02510)" d="M359 0H272V505H101V568C216 573 270 610 295 703H359Z"/><path transform="translate(-139.56 0) scale(0.02510 -0.02510)" d="M-37 -112H561V-162H-37Z"/><path transform="translate(-125.60 0) scale(0.02510 -0.02510)" d="M359 0H272V505H101V568C216 573 270 610 295 703H359Z"/><text x="-111.64">543974</text><path transform="translate(-27.91 0) scale(0.02510 -0.02510)" d="M359 0H272V505H101V568C216 573 270 610 295 703H359Z"/><text x="-13.96">6</text></g>
<g transform="translate(290.30 1181.10) scale(1 1.02)"><path transform="translate(-42.56 0) scale(0.02510 -0.02510)" d="M359 0H272V505H101V568C216 573 270 610 295 703H359Z"/><text x="-28.60">.0e-07</text></g>
<g transform="translate(208.00 1215.31) scale(1 1.02)"><path transform="translate(-153.51 0) scale(0.02510 -0.02510)" d="M359 0H272V505H101V568C216 573 270 610 295 703H359Z"/><text x="-139.56">5</text><path transform="translate(-125.60 0) scale(0.02510 -0.02510)" d="M-37 -112H561V-162H-37Z"/><text x="-111.64">6744</text><path transform="translate(-55.82 0) scale(0.02510 -0.02510)" d="M359 0H272V505H101V568C216 573 270 610 295 703H359Z"/><text x="-41.87">750</text></g>
<g transform="translate(290.30 1218.01) scale(1 1.02)"><path transform="translate(-42.56 0) scale(0.02510 -0.02510)" d="M359 0H272V505H101V568C216 573 270 610 295 703H359Z"/><text x="-28.60">.0e-07</text></g>
<g transform="translate(208.00 1252.22) scale(1 1.02)"><text x="-153.51">4</text><path transform="translate(-139.56 0) scale(0.02510 -0.02510)" d="M-37 -112H561V-162H-37Z"/><path transform="translate(-125.60 0) scale(0.02510 -0.02510)" d="M359 0H272V505H101V568C216 573 270 610 295 703H359Z"/><text x="-111.64">4828</text><path transform="translate(-55.82 0) scale(0.02510 -0.02510)" d="M359 0H272V505H101V568C216 573 270 610 295 703H359Z"/><text x="-41.87">00</text><path transform="translate(-13.96 0) scale(0.02510 -0.02510)" d="M359 0H272V505H101V568C216 573 270 610 295 703H359Z"/></g>
<text transform="translate(290.30 1254.92) scale(1 1.02)" text-anchor="middle">4.0e-07</text>
<g transform="translate(208.00 1289.12) scale(1 1.02)"><path transform="translate(-139.56 0) scale(0.02510 -0.02510)" d="M359 0H272V505H101V568C216 573 270 610 295 703H359Z"/><path transform="translate(-125.60 0) scale(0.02510 -0.02510)" d="M-37 -112H561V-162H-37Z"/><text x="-111.64">55496039</text></g>
<text transform="translate(290.30 1291.83) scale(1 1.02)" text-anchor="middle">7.0e-07</text>
<g transform="translate(208.00 1326.03) scale(1 1.02)"><text x="-153.51">8</text><path transform="translate(-139.56 0) scale(0.02510 -0.02510)" d="M-37 -112H561V-162H-37Z"/><path transform="translate(-125.60 0) scale(0.02510 -0.02510)" d="M359 0H272V505H101V568C216 573 270 610 295 703H359Z"/><text x="-111.64">26478450</text></g>
<text transform="translate(290.30 1328.73) scale(1 1.02)" text-anchor="middle">9.0e-07</text>
<g transform="translate(208.00 1362.94) scale(1 1.02)"><path transform="translate(-139.56 0) scale(0.02510 -0.02510)" d="M359 0H272V505H101V568C216 573 270 610 295 703H359Z"/><text x="-125.60">7</text><path transform="translate(-111.64 0) scale(0.02510 -0.02510)" d="M-37 -112H561V-162H-37Z"/><text x="-97.69">2</text><path transform="translate(-83.73 0) scale(0.02510 -0.02510)" d="M359 0H272V505H101V568C216 573 270 610 295 703H359Z"/><text x="-69.78">33250</text></g>
<text transform="translate(290.30 1365.64) scale(1 1.02)" text-anchor="middle">3.0e-06</text>
<g transform="translate(208.00 1399.85) scale(1 1.02)"><text x="-153.51">2</text><path transform="translate(-139.56 0) scale(0.02510 -0.02510)" d="M-37 -112H561V-162H-37Z"/><path transform="translate(-125.60 0) scale(0.02510 -0.02510)" d="M359 0H272V505H101V568C216 573 270 610 295 703H359Z"/><text x="-111.64">45286559</text></g>
<text transform="translate(290.30 1402.55) scale(1 1.02)" text-anchor="middle">9.0e-06</text>
</g>
<g fill="none" stroke="#000" stroke-width="2.35" stroke-linejoin="round">
<rect x="362.05" y="561.5" width="504.35" height="63.10"/>
<rect x="362.05" y="636.55" width="504.35" height="775.05"/>
<rect x="231.0" y="636.55" width="119.40" height="775.05"/>
</g>
<g fill="none" stroke="#000" stroke-width="1.25" stroke-dasharray="19.9 17.6">
<path d="M572.05 1412.20V636.55"/>
<path d="M572.05 625.20V561.50"/>
<path d="M782.00 1412.20V636.55"/>
<path d="M782.00 625.20V561.50"/>
<path d="M230.40 673.46H350.40"/>
<path d="M361.45 673.46H866.40"/>
<path d="M230.40 1042.53H350.40"/>
<path d="M361.45 1042.53H866.40"/>
</g>
</svg></body></html>
